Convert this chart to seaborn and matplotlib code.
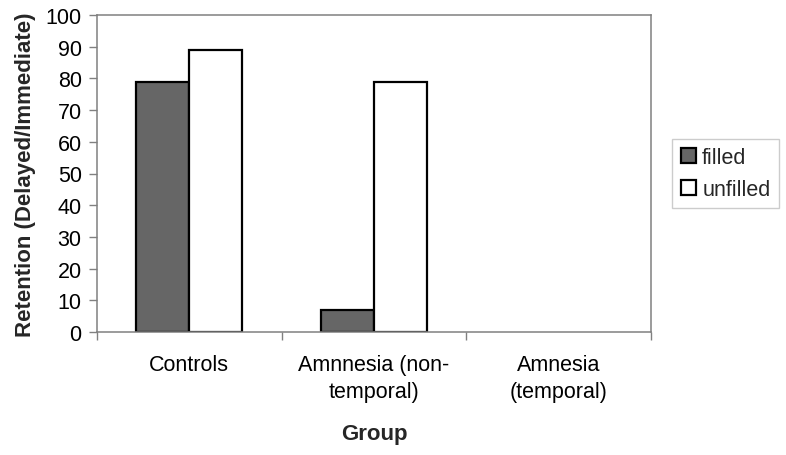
import matplotlib
matplotlib.use("Agg")
import matplotlib.pyplot as plt
import seaborn as sns
import pandas as pd
import numpy as np
from matplotlib.patches import Patch

groups = ["Controls", "Amnnesia (non-\ntemporal)", "Amnesia\n(temporal)"]
series = ["filled", "unfilled"]
filled = [79, 7, np.nan]
unfilled = [89, 79, np.nan]
yticks = [0, 10, 20, 30, 40, 50, 60, 70, 80, 90, 100]

df = pd.DataFrame({
    "Group": groups * 2,
    "Condition": ["filled"] * 3 + ["unfilled"] * 3,
    "Retention": filled + unfilled,
})

sns.set_theme(style="white")
plt.rcParams["font.family"] = ["Liberation Sans", "DejaVu Sans"]

colors = {"filled": "#666666", "unfilled": "#ffffff"}

fig = plt.figure(figsize=(7.86, 4.56), dpi=100)
ax = fig.add_axes([97 / 786, 1 - 333 / 456, (651 - 97) / 786, (333 - 16) / 456])

sns.barplot(data=df, x="Group", y="Retention", hue="Condition", order=groups,
            hue_order=series, palette=colors, edgecolor="black", linewidth=1.6,
            width=0.573, ax=ax, legend=False)

ax.set_xlim(-0.5, 2.5)
ax.set_ylim(0, 100)
ax.set_yticks(yticks)
ax.set_yticklabels([str(v) for v in yticks])

for s in ax.spines.values():
    s.set_visible(True)
    s.set_color("#808080")
    s.set_linewidth(1.1)

ax.tick_params(axis="y", which="major", direction="out", length=6, width=1,
               color="#808080", pad=5, labelsize=15.5, labelcolor="black", left=True)
ax.tick_params(axis="x", which="major", length=0, pad=16, labelsize=15.5, labelcolor="black")
for lbl in ax.get_xticklabels():
    lbl.set_linespacing(1.35)
ax.set_xticks([-0.5, 0.5, 1.5, 2.5], minor=True)
ax.tick_params(axis="x", which="minor", direction="out", length=6, width=1,
               color="#808080", bottom=True)

ax.set_xlabel("Group", fontsize=16, fontweight="bold", labelpad=15)
ax.set_ylabel("Retention (Delayed/Immediate)", fontsize=16, fontweight="bold", labelpad=7)

handles = [Patch(facecolor=colors[s], edgecolor="black", linewidth=1.6, label=s) for s in series]
leg = fig.legend(handles=handles, loc="center left",
                 bbox_to_anchor=(672 / 786, 1 - 174.5 / 456),
                 fontsize=15.5, frameon=True, fancybox=False, handlelength=0.7,
                 handleheight=0.7, handletextpad=0.3, borderpad=0.4,
                 labelspacing=0.5, borderaxespad=0)
leg.get_frame().set_edgecolor("#c0c0c0")
leg.get_frame().set_linewidth(1.0)

fig.savefig("out.png", dpi=100)
